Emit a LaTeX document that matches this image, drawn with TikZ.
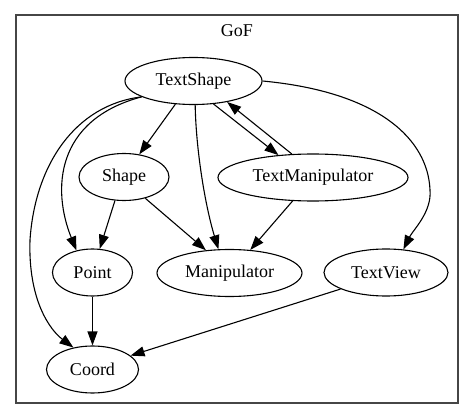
\documentclass[tikz,border=0pt]{standalone}
\usepackage{fontspec}
\newfontfamily\gvfont{LiberationSerif-Regular.ttf}
\usetikzlibrary{shapes.geometric,arrows.meta}
\definecolor{boxgray}{RGB}{70,70,70}
\begin{document}
\begin{tikzpicture}[x=1pt,y=1pt,
  gnode/.style={ellipse,draw,line width=1.1pt,inner sep=0pt,minimum height=47pt,font=\gvfont\fontsize{18}{20}\selectfont},
  edge/.style={line width=1.1pt,-{Triangle[length=14pt,width=10pt]}},
  clusterbox/.style={draw=boxgray,line width=1.5pt,inner sep=0pt},
  titletext/.style={font=\gvfont\fontsize{18}{20}\selectfont}]
\useasboundingbox (0,0) rectangle (475,-420);
\node[clusterbox,minimum width=442pt,minimum height=388pt] (gof) at (237,-209) {};
\node[titletext] (title) at (237,-31) {GoF};
\node[gnode,minimum width=137pt] (ts) at (193.5,-81) {TextShape};
\node[gnode,minimum width=90pt] (shape) at (124,-177) {Shape};
\node[gnode,minimum width=190pt] (tm) at (313,-177.5) {TextManipulator};
\node[gnode,minimum width=80pt] (pt) at (92.5,-272.5) {Point};
\node[gnode,minimum width=145pt] (manip) at (229.5,-273) {Manipulator};
\node[gnode,minimum width=124pt] (tv) at (386,-272.5) {TextView};
\node[gnode,minimum width=92pt] (coord) at (92.5,-369.5) {Coord};
\draw[edge] (ts.232.7) -- (shape.56.3);
\draw[edge] (ts.311.7) -- (tm.147.8);
\draw[edge] (tm.132.4) -- (ts.328);
\draw[edge] (ts.197.6) .. controls (55,-120) and (52,-190) .. (pt.126);
\draw[edge] (ts.197.6) .. controls (75,-105) and (35,-165) .. (30,-240)
  .. controls (28,-300) and (50,-330) .. (coord.131.6);
\draw[edge] (ts.274) .. controls (196,-150) and (205,-205) .. (manip.115.6);
\draw[edge] (ts.east) .. controls (380,-92) and (428,-140) .. (430,-190)
  .. controls (432,-212) and (413,-230) .. (tv.53);
\draw[edge] (shape.249.4) -- (pt.73.4);
\draw[edge] (shape.315) -- (manip.136.8);
\draw[edge] (tm.229) -- (manip.48.3);
\draw[edge] (pt) -- (coord);
\draw[edge] (tv.200.8) -- (coord.20.4);
\end{tikzpicture}
\end{document}
